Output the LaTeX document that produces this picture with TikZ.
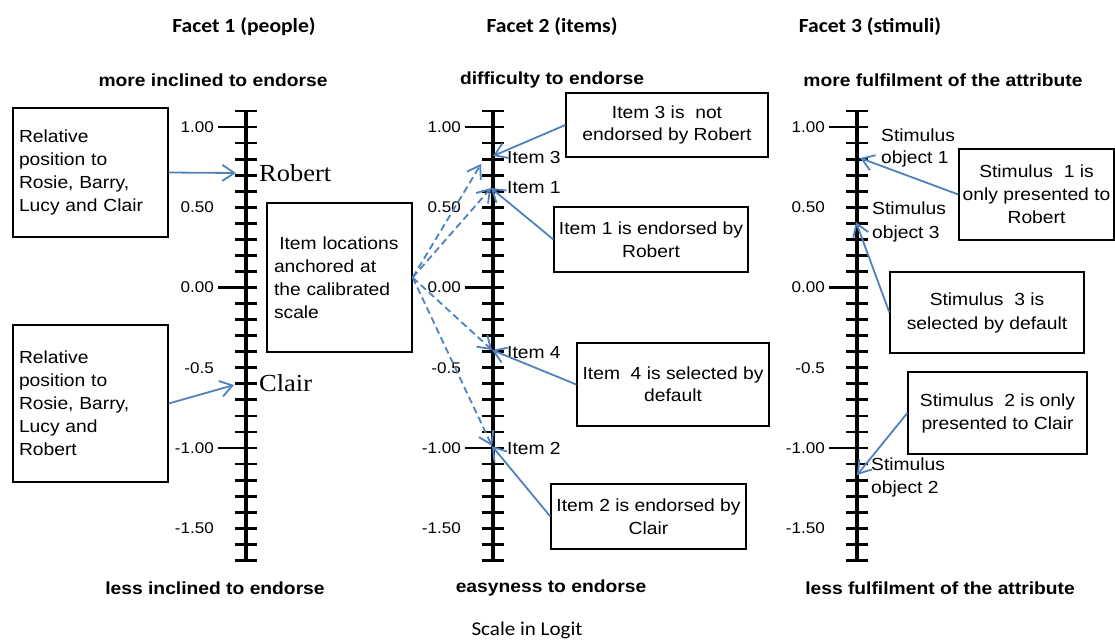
\documentclass[tikz,border=0pt]{standalone}
\usepackage{fontspec}
\setmainfont{Liberation Sans}[FakeStretch=1.1]
\newfontfamily\calfont{Carlito}[FakeStretch=1.08]
\newfontfamily\serfont{Liberation Serif}[FakeStretch=1.08]
\usetikzlibrary{arrows.meta}
\definecolor{linkblue}{RGB}{79,129,189}

% one logit ruler: #1 = x of the stem, #2 = name prefix
\newcommand\drawlogitscale[2]{%
  \draw[axisstem] (#1,111) -- (#1,560);
  \foreach \i in {-17,...,11} {
    \draw[tickmark] ({#1-11},{287.5-\i*16.05}) -- ({#1+11},{287.5-\i*16.05});
  }
  \foreach \v in {1,0,-1} {
    \draw[tickmark] ({#1-28},{287.5-\v*160.5}) -- ({#1+11},{287.5-\v*160.5});
  }
  \foreach \v/\t [count=\n] in {1/1.00, 0.5/0.50, 0/0.00, -0.5/-0.5, -1/-1.00, -1.5/-1.50} {
    \node[ticklabel] (#2-lab\n) at ({#1-32},{287.5-\v*160.5}) {\t};
  }
}

\begin{document}
\begin{tikzpicture}[x=1pt,y=-1pt,
  boxtext/.style={font=\fontsize{17.5}{23}\selectfont},
  callout/.style={draw, line width=1.3pt, inner sep=0pt, boxtext, align=center},
  ticklabel/.style={anchor=east, inner sep=0pt, font=\fontsize{15.5}{18}\selectfont},
  facettitle/.style={inner sep=0pt, font=\calfont\bfseries\fontsize{20}{22}\selectfont},
  poletext/.style={inner sep=0pt, font=\bfseries\fontsize{17.5}{21}\selectfont},
  pointlabel/.style={anchor=west, inner sep=0pt, align=left, boxtext},
  namelabel/.style={anchor=west, inner sep=0pt, font=\serfont\fontsize{24.5}{26}\selectfont},
  pointer/.style={draw=linkblue, line width=1.8pt, -{Straight Barb[length=12pt,width=16pt,line width=1.8pt]}},
  linkdash/.style={pointer, dash pattern=on 7pt off 4pt},
  axisstem/.style={line width=4pt},
  tickmark/.style={line width=2.8pt},
]
\useasboundingbox (0,0) rectangle (1115,640);

% facet headings
\node[facettitle] (t1) at (244,27) {Facet 1 (people)};
\node[facettitle] (t2) at (552,27) {Facet 2 (items)};
\node[facettitle] (t3) at (870,27) {Facet 3 (stimuli)};

% pole labels
\node[poletext] (top1) at (213,80) {more inclined to endorse};
\node[poletext] (top2) at (552,80) {difficulty to endorse};
\node[poletext] (top3) at (943,80) {more fulfilment of the attribute};
\node[poletext] (bot1) at (215,588) {less inclined to endorse};
\node[poletext] (bot2) at (551,588) {easyness to endorse};
\node[poletext] (bot3) at (940,588) {less fulfilment of the attribute};
\node[inner sep=0pt, font=\calfont\fontsize{19.5}{22}\selectfont] (unit) at (527,630) {Scale in Logit};

% the three rulers
\drawlogitscale{246}{pe}
\drawlogitscale{493}{it}
\drawlogitscale{857}{st}

% positions on the rulers
\coordinate (robertpt) at (236,173);
\coordinate (clairpt) at (234,385);
\coordinate (item3pt) at (493,156);
\coordinate (item3d) at (481,164);
\coordinate (item1pt) at (491,188);
\coordinate (item4pt) at (492,350);
\coordinate (item2pt) at (492,446);
\coordinate (stim1pt) at (860,158);
\coordinate (stim3pt) at (856,222);
\coordinate (stim2pt) at (857,475);

% labels on the rulers
\node[namelabel] (robert) at (259,173) {Robert};
\node[namelabel] (clair) at (259,383) {Clair};
\node[pointlabel] (i3) at (507,157) {Item 3};
\node[pointlabel] (i1) at (507,188) {Item 1};
\node[pointlabel] (i4) at (507,353) {Item 4};
\node[pointlabel] (i2) at (507,448) {Item 2};
\node[pointlabel, font=\fontsize{17.5}{22}\selectfont] (s1) at (881,148) {Stimulus\\object 1};
\node[pointlabel, font=\fontsize{17.5}{24}\selectfont] (s3) at (872,222) {Stimulus\\object 3};
\node[pointlabel, font=\fontsize{17.5}{23}\selectfont] (s2) at (871,477) {Stimulus\\object 2};

% callout boxes
\node[callout, minimum width=155pt, minimum height=129pt, text width=143pt, align=left]
  (relA) at (90.5,172.5) {Relative\\position to\\Rosie, Barry,\\Lucy and Clair};
\node[callout, minimum width=155pt, minimum height=157pt, text width=143pt, align=left]
  (relB) at (90.5,403.5) {Relative\\position to\\Rosie, Barry,\\Lucy and\\Robert};
\node[callout, minimum width=145pt, minimum height=149pt, text width=131pt, align=left]
  (anchor) at (339.5,277.5) {\hspace*{0.3em}Item locations\\anchored at\\the calibrated\\scale};
\node[callout, minimum width=202pt, minimum height=64pt, font=\fontsize{17.5}{22}\selectfont]
  (c3) at (667,125) {Item 3 is\ \ not\\endorsed by Robert};
\node[callout, minimum width=194pt, minimum height=65pt]
  (c1) at (651,239.5) {Item 1 is endorsed by\\Robert};
\node[callout, minimum width=192pt, minimum height=83pt, font=\fontsize{17.5}{22}\selectfont]
  (c4) at (673,384.5) {Item\ \ 4 is selected by\\default};
\node[callout, minimum width=195pt, minimum height=65pt]
  (c2) at (648.5,516.5) {Item 2 is endorsed by\\Clair};
\node[callout, minimum width=155pt, minimum height=91pt]
  (d1) at (1036.5,194.5) {Stimulus\ \ 1 is\\only presented to\\Robert};
\node[callout, minimum width=194pt, minimum height=81pt, font=\fontsize{17.5}{24}\selectfont]
  (d3) at (987,312.5) {Stimulus\ \ 3 is\\selected by default};
\node[callout, minimum width=179pt, minimum height=82pt]
  (d2) at (997.5,413) {Stimulus\ \ 2 is only\\presented to Clair};

% connectors
\draw[pointer] (relA.east) -- (robertpt);
\draw[pointer] (relB.east) -- (clairpt);
\draw[linkdash] (anchor.east) -- (item3d);
\draw[linkdash] (anchor.east) -- (item1pt);
\draw[linkdash] (anchor.east) -- (item4pt);
\draw[linkdash] (anchor.east) -- (item2pt);
\draw[pointer] (c3.west) -- (item3pt);
\draw[pointer] (c1.west) -- (item1pt);
\draw[pointer] (c4.west) -- (item4pt);
\draw[pointer] (c2.west) -- (item2pt);
\draw[pointer] (d1.west) -- (stim1pt);
\draw[pointer] (d3.west) -- (stim3pt);
\draw[pointer] (d2.west) -- (stim2pt);
\end{tikzpicture}
\end{document}
